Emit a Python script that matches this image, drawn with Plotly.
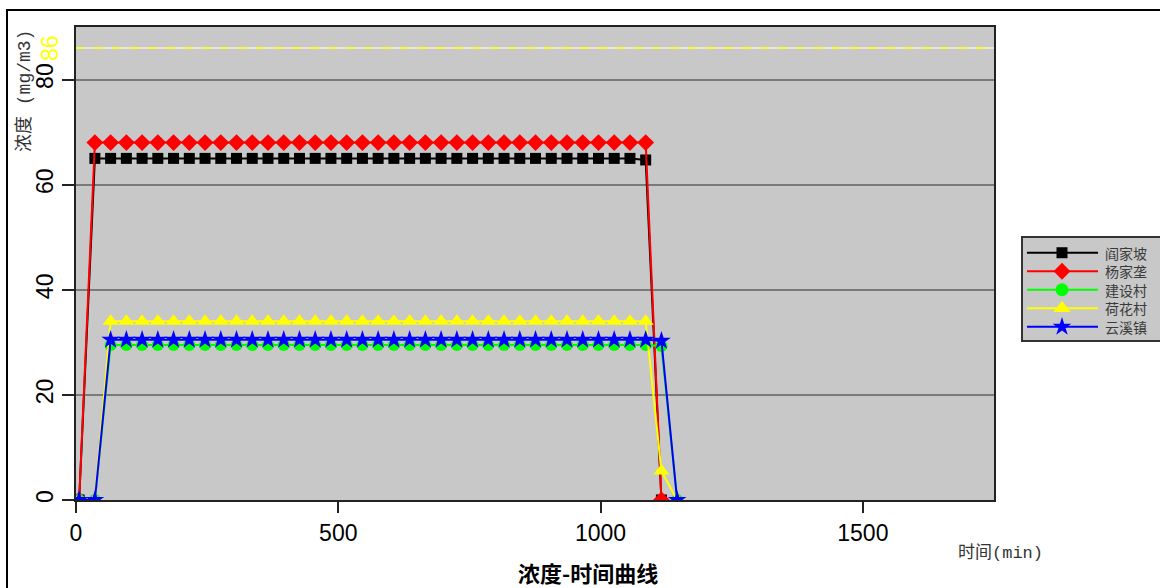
import plotly.graph_objects as go

times = [6, 36, 66, 96, 126, 156, 186, 216, 246, 276, 306, 336, 366, 396, 426,
         456, 486, 516, 546, 576, 606, 636, 666, 696, 726, 756, 786, 816, 846,
         876, 906, 936, 966, 996, 1026, 1056, 1086, 1116, 1146]

yanjiapo = [0, 65, 65, 65, 65, 65, 65, 65, 65, 65, 65, 65, 65, 65, 65, 65, 65,
            65, 65, 65, 65, 65, 65, 65, 65, 65, 65, 65, 65, 65, 65, 65, 65, 65,
            65, 65, 64.7, 0]
yangjiawa = [0, 68, 68, 68, 68, 68, 68, 68, 68, 68, 68, 68, 68, 68, 68, 68, 68,
             68, 68, 68, 68, 68, 68, 68, 68, 68, 68, 68, 68, 68, 68, 68, 68, 68,
             68, 68, 68, 0]
jianshecun = [0, 0, 29.5, 29.5, 29.5, 29.5, 29.5, 29.5, 29.5, 29.5, 29.5, 29.5,
              29.5, 29.5, 29.5, 29.5, 29.5, 29.5, 29.5, 29.5, 29.5, 29.5, 29.5,
              29.5, 29.5, 29.5, 29.5, 29.5, 29.5, 29.5, 29.5, 29.5, 29.5, 29.5,
              29.5, 29.5, 29.5, 29.3, 0]
hehuacun = [0, 0, 34, 34, 34, 34, 34, 34, 34, 34, 34, 34, 34, 34, 34, 34, 34,
            34, 34, 34, 34, 34, 34, 34, 34, 34, 34, 34, 34, 34, 34, 34, 34, 34,
            34, 34, 34, 5.5, 0]
yunxizhen = [0, 0, 30.5, 30.5, 30.5, 30.5, 30.5, 30.5, 30.5, 30.5, 30.5, 30.5,
             30.5, 30.5, 30.5, 30.5, 30.5, 30.5, 30.5, 30.5, 30.5, 30.5, 30.5,
             30.5, 30.5, 30.5, 30.5, 30.5, 30.5, 30.5, 30.5, 30.5, 30.5, 30.5,
             30.5, 30.5, 30.5, 30.3, 0]

names = ["阎家坡", "杨家垄", "建设村", "荷花村", "云溪镇"]
series = [yanjiapo, yangjiawa, jianshecun, hehuacun, yunxizhen]
colors = ["#000000", "#ff0000", "#00ff00", "#ffff00", "#0000ff"]
symbols = ["square", "diamond", "circle", "triangle-up", "star"]
sizes = [11, 13, 12, 14, 14]
legend_sizes = [11, 13, 13, 15, 14]

y_ticks = [0, 20, 40, 60, 80]
x_ticks = [0, 500, 1000, 1500]
limit_value = 86

W, H = 1160, 588
ML, MT, MB = 76, 27, 88
PW = W - ML          # paper width (right margin 0)
PH = H - MT - MB     # paper height


def px(x):
    return (x - ML) / PW


def py(y):
    return (H - MB - y) / PH


fig = go.Figure()
for nm, ys, c, s, sz in zip(names, series, colors, symbols, sizes):
    fig.add_trace(go.Scatter(
        x=times[:len(ys)], y=ys, name=nm, mode="lines+markers",
        line=dict(color=c, width=2),
        marker=dict(symbol=s, size=sz, color=c, line=dict(width=0)),
        showlegend=False, xaxis="x", yaxis="y",
    ))

# custom legend drawn on a hidden helper axis pair
leg_rows = [0, 1, 2, 3, 4]
for i, (nm, c, s, sz) in enumerate(zip(names, colors, symbols, legend_sizes)):
    fig.add_trace(go.Scatter(
        x=[5, 76], y=[leg_rows[i], leg_rows[i]], mode="lines",
        line=dict(color=c, width=2), showlegend=False, hoverinfo="skip",
        xaxis="x2", yaxis="y2",
    ))
    fig.add_trace(go.Scatter(
        x=[40], y=[leg_rows[i]], mode="markers",
        marker=dict(symbol=s, size=sz, color=c, line=dict(width=0)),
        showlegend=False, hoverinfo="skip", xaxis="x2", yaxis="y2",
    ))
    fig.add_annotation(x=82, y=leg_rows[i], xref="x2", yref="y2", text=nm,
                       showarrow=False, xanchor="left", yanchor="middle", borderpad=0,
                       font=dict(family="Noto Sans CJK SC, sans-serif", size=14,
                                 color="#3a3a3a"))

# limit line
fig.add_hline(y=limit_value, line=dict(color="#f2f2e6", width=1.5), layer="above")
fig.add_hline(y=limit_value, line=dict(color="#ffff00", width=1.5, dash="dash"), layer="above")

tick_font = dict(family="Liberation Sans Narrow, Liberation Sans, Arial, sans-serif",
                 size=23, color="#000000")
mono = "Liberation Mono, Noto Sans CJK SC, monospace"

fig.update_layout(
    width=W, height=H,
    margin=dict(l=ML, r=0, t=MT, b=MB, autoexpand=False),
    paper_bgcolor="#ffffff",
    plot_bgcolor="#c8c8c8",
    showlegend=False,
    xaxis=dict(
        domain=[0, px(994)], anchor="y",
        range=[0, 1750], tickvals=x_ticks, ticktext=[str(v) for v in x_ticks],
        showgrid=False, zeroline=False,
        showline=True, linecolor="#222222", linewidth=2, mirror=True,
        ticks="outside", ticklen=11, tickwidth=2, tickcolor="#222222",
        tickfont=tick_font,
    ),
    yaxis=dict(
        domain=[0, 1], anchor="x",
        range=[0, 90], tickvals=y_ticks, ticktext=[str(v) for v in y_ticks],
        showgrid=True, gridcolor="#7a7a7a", gridwidth=1.5, zeroline=False,
        showline=True, linecolor="#222222", linewidth=2, mirror=True,
        ticks="outside", ticklen=12, tickwidth=2, tickcolor="#222222",
        tickfont=tick_font, tickangle=-90,
    ),
    xaxis2=dict(domain=[px(1022), 1], anchor="y2", range=[0, 138],
                visible=False, fixedrange=True),
    yaxis2=dict(domain=[py(341), py(237)], anchor="x2", range=[4.77, -0.85],
                visible=False, fixedrange=True),
)

# legend box
fig.add_shape(type="rect", xref="paper", yref="paper",
              x0=px(1022), x1=px(1175), y0=py(341), y1=py(237),
              fillcolor="#c8c8c8", line=dict(color="#333333", width=2), layer="below")

# extra yellow tick label for limit
fig.add_annotation(x=px(50), xref="paper", y=limit_value, yref="y",
                   text=str(limit_value), showarrow=False, textangle=-90,
                   font=dict(family=tick_font["family"], size=23, color="#ffff00"),
                   xanchor="center", yanchor="middle")
# y axis title
fig.add_annotation(x=px(24), xref="paper", y=py(91), yref="paper", text="浓度 (mg/m3)",
                   showarrow=False, textangle=-90, xanchor="center", yanchor="middle",
                   font=dict(family=mono, size=18, color="#333333"))
# x axis title
fig.add_annotation(x=px(1000), xref="paper", y=py(553), yref="paper",
                   text="时间(min)", showarrow=False, xanchor="center", yanchor="middle",
                   font=dict(family=mono, size=17, color="#333333"))
# chart title
fig.add_annotation(x=px(588), xref="paper", y=py(572), yref="paper",
                   text="<b>浓度-时间曲线</b>", showarrow=False,
                   xanchor="center", yanchor="middle", borderpad=0,
                   font=dict(family="Noto Sans CJK SC, sans-serif", size=22, color="#000000"))

# outer frame
fig.add_shape(type="rect", xref="paper", yref="paper",
              x0=px(7), x1=px(1175), y0=py(600), y1=py(10),
              line=dict(color="#000000", width=2), layer="below")

fig.write_html("out.html", config={"displayModeBar": False},
               post_script="document.body.style.margin='0px';document.body.style.overflow='hidden';")
